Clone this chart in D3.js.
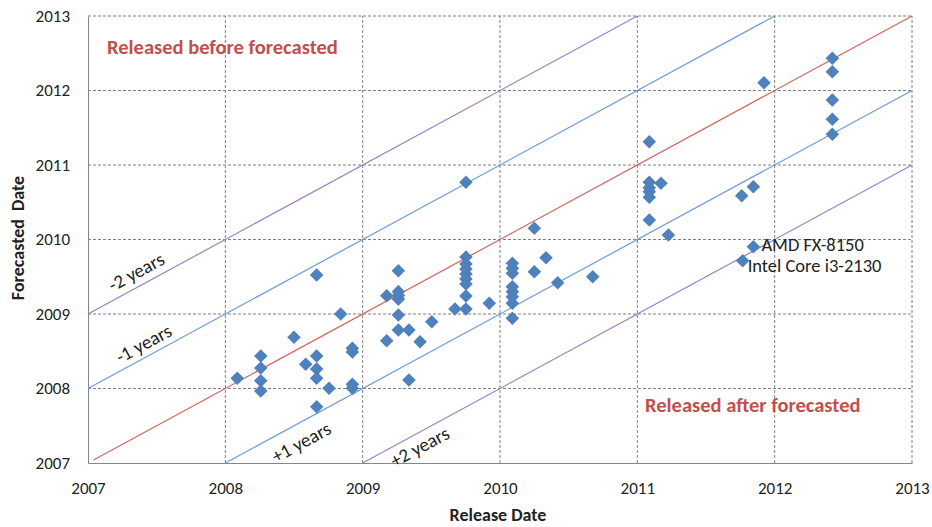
<!DOCTYPE html>
<html>
<head>
<meta charset="utf-8">
<script src="https://cdn.jsdelivr.net/npm/d3@7.9.0/dist/d3.min.js"></script>
<style>
  body { margin: 0; background: #fff; }
  svg { font-family: Carlito, Lato, sans-serif; }
</style>
</head>
<body>
<svg id="chart" width="932" height="527"></svg>
<script>
// tick years on both axes
const years = [2007, 2008, 2009, 2010, 2011, 2012, 2013];

// release date (x) vs forecasted date (y)
const releaseDates = [
  2008.087, 2008.258, 2008.258, 2008.258, 2008.258, 2008.5, 2008.585,
  2008.665, 2008.665, 2008.665, 2008.665, 2008.665, 2008.755, 2008.84,
  2008.925, 2008.925, 2008.925, 2008.925, 2009.175, 2009.175,
  2009.26, 2009.26, 2009.26, 2009.26, 2009.26, 2009.26, 2009.337, 2009.337,
  2009.418, 2009.503, 2009.672, 2009.752,
  2009.752, 2009.752, 2009.752, 2009.752, 2009.752, 2009.752, 2009.752, 2009.752,
  2009.922,
  2010.09, 2010.09, 2010.09, 2010.09, 2010.09, 2010.09, 2010.09, 2010.09,
  2010.25, 2010.25, 2010.335, 2010.42, 2010.675,
  2011.087, 2011.087, 2011.087, 2011.087, 2011.087, 2011.087, 2011.172, 2011.226,
  2011.76, 2011.845, 2011.922,
  2012.42, 2012.42, 2012.42, 2012.42, 2012.42,
  2011.845, 2011.767
];
const forecastDates = [
  2008.137, 2008.436, 2008.275, 2008.105, 2007.966, 2008.687, 2008.325,
  2009.523, 2008.436, 2008.262, 2008.137, 2007.756, 2008.003, 2009.0,
  2008.54, 2008.49, 2008.056, 2008.003, 2009.246, 2008.642,
  2009.58, 2009.3, 2009.25, 2009.2, 2008.987, 2008.785, 2008.785, 2008.114,
  2008.628, 2008.897, 2009.067, 2010.768,
  2009.765, 2009.671, 2009.604, 2009.537, 2009.47, 2009.403, 2009.242, 2009.067,
  2009.144,
  2009.68, 2009.613, 2009.546, 2009.366, 2009.3, 2009.232, 2009.144, 2008.942,
  2010.15, 2009.568, 2009.756, 2009.42, 2009.5,
  2011.313, 2010.768, 2010.695, 2010.642, 2010.566, 2010.262, 2010.754, 2010.06,
  2010.588, 2010.709, 2012.105,
  2012.432, 2012.252, 2011.872, 2011.613, 2011.412,
  2009.903, 2009.715
];

// named chips next to their points
const chipNames = ['AMD FX-8150', 'Intel Core i3-2130'];
const chipRelease = [2011.845, 2011.767];
const chipForecast = [2009.903, 2009.715];

// reference lines: forecast = release + offset
const lineOffsets = [-2, -1, 0, 1, 2];
const lineLabels = ['+2 years', '+1 years', '', '-1 years', '-2 years'];
const lineColors = ['#9b80c2', '#6b9bd8', '#d4625c', '#6b9bd8', '#9b80c2'];

const svg = d3.select('#chart');
const x = d3.scaleLinear().domain([2007, 2013]).range([88, 912]);
const y = d3.scaleLinear().domain([2007, 2013]).range([463, 16]);

// grid
svg.append('g').selectAll('line').data(years.slice(1)).join('line')
  .attr('x1', d => x(d)).attr('x2', d => x(d))
  .attr('y1', y(2007)).attr('y2', y(2013))
  .attr('stroke', '#7f7f7f').attr('stroke-dasharray', '3,2');
svg.append('g').selectAll('line').data(years.slice(1)).join('line')
  .attr('x1', x(2007)).attr('x2', x(2013))
  .attr('y1', d => y(d)).attr('y2', d => y(d))
  .attr('stroke', '#7f7f7f').attr('stroke-dasharray', '3,2');

// axes
let xAxis = svg.append('g').attr('transform', `translate(0,${y(2007)})`)
  .call(d3.axisBottom(x).tickValues(years).tickFormat(d3.format('d')).tickSize(0).tickPadding(19));
let yAxis = svg.append('g').attr('transform', `translate(${x(2007)},0)`)
  .call(d3.axisLeft(y).tickValues(years).tickFormat(d3.format('d')).tickSize(0).tickPadding(18));
[xAxis, yAxis].forEach(a => {
  a.select('.domain').attr('stroke', '#868686');
  a.selectAll('text').attr('font-size', 17).attr('fill', '#222')
    .attr('font-family', 'Carlito, Lato, sans-serif');
});

// diagonal lines, clipped to the plot box
lineOffsets.forEach((off, i) => {
  let x0 = Math.max(2007, 2007 - off);
  let x1 = Math.min(2013, 2013 - off);
  if (off === 0) x0 = 2007.04;
  svg.append('line')
    .attr('x1', x(x0)).attr('y1', y(x0 + off))
    .attr('x2', x(x1)).attr('y2', y(x1 + off))
    .attr('stroke', lineColors[i]).attr('stroke-width', 1.2);
});

const angle = -Math.atan((y(2007) - y(2008)) / (x(2008) - x(2007))) * 180 / Math.PI;

// line labels: [release x where the label sits, pixel shift normal to line]
const labelAt = [
  [2009.37, 15], [2008.49, 20], null, [2007.45, -11], [2007.4, -12]
];
lineOffsets.forEach((off, i) => {
  if (!labelAt[i]) return;
  let [lx, shift] = labelAt[i];
  let px = x(lx), py = y(lx + off);
  svg.append('text')
    .attr('transform', `translate(${px},${py}) rotate(${angle}) translate(0,${shift})`)
    .attr('text-anchor', 'middle')
    .attr('dominant-baseline', 'middle')
    .attr('font-size', 19).attr('fill', '#222')
    .text(lineLabels[i]);
});

// points
const diamond = d3.symbol().type(d3.symbolSquare).size(92);
svg.append('g').selectAll('path').data(releaseDates).join('path')
  .attr('d', diamond)
  .attr('transform', (d, i) => `translate(${x(d)},${y(forecastDates[i])}) rotate(45)`)
  .attr('fill', '#4f81bd');

// chip labels
svg.append('g').selectAll('text').data(chipNames).join('text')
  .attr('x', (d, i) => x(chipRelease[i]) + (i === 0 ? 8 : 5))
  .attr('y', (d, i) => y(chipForecast[i]) + (i === 0 ? 4 : 11))
  .attr('font-size', 18.5).attr('fill', '#222')
  .text(d => d);

// region notes
svg.append('text').attr('x', 107).attr('y', 54)
  .attr('font-size', 20.5).attr('font-weight', 'bold').attr('fill', '#c0504d')
  .text('Released before forecasted');
svg.append('text').attr('x', 645).attr('y', 412)
  .attr('font-size', 20.5).attr('font-weight', 'bold').attr('fill', '#c0504d')
  .text('Released after forecasted');

// axis titles
svg.append('text').attr('x', 498).attr('y', 521)
  .attr('text-anchor', 'middle').attr('font-size', 18).attr('font-weight', 'bold').attr('fill', '#222')
  .text('Release Date');
svg.append('text')
  .attr('transform', 'translate(24,238) rotate(-90)')
  .attr('text-anchor', 'middle').attr('font-size', 18).attr('font-weight', 'bold').attr('fill', '#222')
  .style('white-space', 'pre')
  .text('Forecasted  Date');
</script>
</body>
</html>
